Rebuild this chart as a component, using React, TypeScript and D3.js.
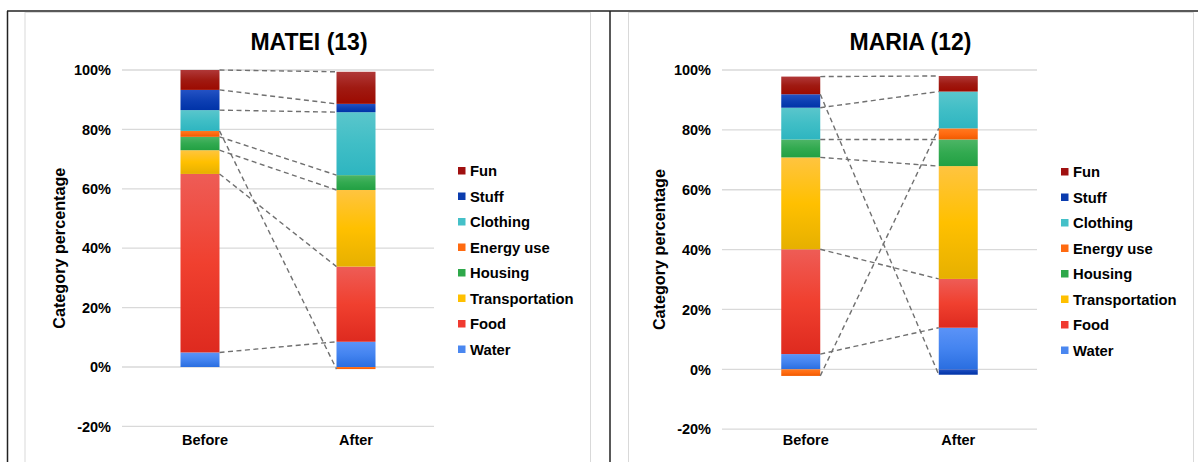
import React from "react";
import * as d3 from "d3";

const categories = ["Before", "After"];
const seriesNames = ["Water", "Food", "Transportation", "Housing", "Energy use", "Clothing", "Stuff", "Fun"];
const mateiBefore = [4.9, 60.1, 8.0, 4.5, 2.0, 7.0, 6.8, 6.7];
const mateiAfter = [8.5, 25.3, 25.8, 5.0, -0.7, 21.2, 2.8, 10.8];
const mariaBefore = [5.1, 35.0, 30.7, 6.0, -2.2, 10.6, 4.5, 5.9];
const mariaAfter = [13.9, 16.3, 37.7, 8.9, 3.7, 12.3, -1.8, 5.2];
const yTicks = [-20, 0, 20, 40, 60, 80, 100];

const legendColors: Record<string, string> = {
  Water: "#4a87f0",
  Food: "#f03a30",
  Transportation: "#ffc000",
  Housing: "#2ea84a",
  "Energy use": "#ff6a10",
  Clothing: "#44c0c8",
  Stuff: "#0b3cae",
  Fun: "#a01010",
};
const gradStops: Record<string, string[]> = {
  Water: ["#5b93f7", "#4484f0", "#2a6ee0"],
  Food: ["#ee5c56", "#f0402f", "#de2a1f"],
  Transportation: ["#ffc440", "#ffc000", "#e6b000"],
  Housing: ["#4db566", "#32aa50", "#22a043"],
  "Energy use": ["#ff7a20", "#ff6a10", "#f05a00"],
  Clothing: ["#5ac6cc", "#40bec6", "#2eb5c0"],
  Stuff: ["#2452c4", "#0e40b4", "#0033a8"],
  Fun: ["#b03838", "#a01a12", "#9c0a00"],
};

const FONT = "'Liberation Sans', Arial, sans-serif";
const gid = (s: string) => "g-" + s.replace(/\s/g, "");

type PanelProps = {
  title: string;
  before: number[];
  after: number[];
  areaX0: number;
  areaX1: number;
  plotX0: number;
  plotX1: number;
  yTop: number;
  yBottom: number;
  legendX: number;
  legendY: number;
  titleX: number;
};

function Panel(p: PanelProps) {
  const x = d3.scaleBand<string>().domain(categories).range([p.plotX0, p.plotX1]);
  const y = d3.scaleLinear().domain([-20, 100]).range([p.yBottom, p.yTop]);
  const bw = 39;
  const rows = categories.map((c, j) => {
    const vals = j === 0 ? p.before : p.after;
    const r: any = { cat: c };
    seriesNames.forEach((s, i) => (r[s] = vals[i]));
    return r;
  });
  const stack = d3.stack<any>().keys(seriesNames).offset(d3.stackOffsetDiverging);
  const stacked = stack(rows);
  const cx = (c: string) => (x(c) as number) + x.bandwidth() / 2;
  const ends = stacked.map((ser) =>
    ser.map((d, j) => {
      const v = rows[j][ser.key];
      return v >= 0 ? d[1] : d[0];
    })
  );
  const midY = (p.yTop + p.yBottom) / 2;
  return (
    <g>
      <rect x={p.areaX0} y={12.5} width={p.areaX1 - p.areaX0} height={470} fill="#fff" stroke="#d9d9d9" strokeWidth={1} />
      <text x={p.titleX} y={50} textAnchor="middle" fontFamily={FONT} fontWeight="bold" fontSize={23} fill="#000">
        {p.title}
      </text>
      {yTicks.map((t) => (
        <g key={t}>
          <line x1={p.plotX0} x2={p.plotX1} y1={y(t)} y2={y(t)} stroke="#d9d9d9" strokeWidth={1.3} />
          <text x={p.plotX0 - 11} y={y(t)} dy="0.36em" textAnchor="end" fontFamily={FONT} fontWeight="bold" fontSize={14.5} fill="#000">
            {t + "%"}
          </text>
        </g>
      ))}
      <text
        transform={`translate(${p.plotX0 - 57},${midY}) rotate(-90)`}
        textAnchor="middle"
        fontFamily={FONT}
        fontWeight="bold"
        fontSize={16.2}
        fill="#000"
      >
        Category percentage
      </text>
      {stacked.map((ser) =>
        ser.map((d, j) => {
          const c = categories[j];
          const top = y(Math.max(d[0], d[1]));
          const bot = y(Math.min(d[0], d[1]));
          if (bot - top <= 0) return null;
          return <rect key={ser.key + c} x={cx(c) - bw / 2} y={top} width={bw} height={bot - top} fill={`url(#${gid(ser.key)})`} />;
        })
      )}
      {ends.map((e, i) => (
        <line
          key={"sl" + i}
          x1={cx(categories[0]) + bw / 2}
          x2={cx(categories[1]) - bw / 2}
          y1={y(e[0])}
          y2={y(e[1])}
          stroke="#707070"
          strokeWidth={1.4}
          strokeDasharray="5,3.5"
        />
      ))}
      {categories.map((c) => (
        <text key={c} x={cx(c) + (c === "Before" ? 5 : 0)} y={445} textAnchor="middle" fontFamily={FONT} fontWeight="bold" fontSize={14.5} fill="#000">
          {c}
        </text>
      ))}
      {seriesNames
        .slice()
        .reverse()
        .map((s, i) => (
          <g key={s} transform={`translate(${p.legendX},${p.legendY + i * 25.5})`}>
            <rect x={0} y={-4} width={7.5} height={7.5} fill={legendColors[s]} />
            <text x={12} y={0} dy="0.36em" fontFamily={FONT} fontWeight="bold" fontSize={14.8} fill="#000">
              {s}
            </text>
          </g>
        ))}
    </g>
  );
}

export default function App() {
  return (
    <svg width={1198} height={462} style={{ position: "fixed", left: 0, top: 0, background: "#fff" }}>
      <defs>
        {seriesNames.map((s) => (
          <linearGradient key={s} id={gid(s)} x1="0" y1="0" x2="0" y2="1">
            <stop offset="0%" stopColor={gradStops[s][0]} />
            <stop offset="50%" stopColor={gradStops[s][1]} />
            <stop offset="100%" stopColor={gradStops[s][2]} />
          </linearGradient>
        ))}
      </defs>
      <rect x={0} y={0} width={1198} height={462} fill="#fff" />
      <Panel
        title="MATEI (13)"
        before={mateiBefore}
        after={mateiAfter}
        areaX0={25}
        areaX1={590.5}
        plotX0={122}
        plotX1={434}
        yTop={70}
        yBottom={426.4}
        legendX={458}
        legendY={171}
        titleX={309}
      />
      <Panel
        title="MARIA (12)"
        before={mariaBefore}
        after={mariaAfter}
        areaX0={628.5}
        areaX1={1193.5}
        plotX0={722}
        plotX1={1037}
        yTop={70}
        yBottom={429.2}
        legendX={1061}
        legendY={172}
        titleX={910.5}
      />
      <line x1={7} x2={1198} y1={11} y2={11} stroke="#222" strokeWidth={1.5} />
      <line x1={7.5} x2={7.5} y1={11} y2={462} stroke="#222" strokeWidth={1.5} />
      <line x1={610} x2={610} y1={11} y2={462} stroke="#222" strokeWidth={1.5} />
    </svg>
  );
}
